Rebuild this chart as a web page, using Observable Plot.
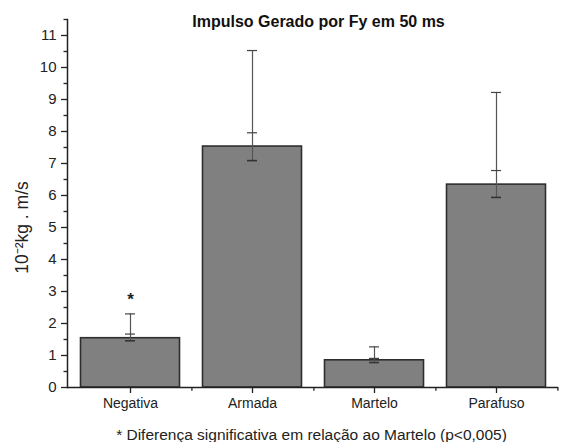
<!DOCTYPE html>
<html>
<head>
<meta charset="utf-8">
<script src="https://cdn.jsdelivr.net/npm/d3@7"></script>
<script src="https://cdn.jsdelivr.net/npm/@observablehq/plot@0.6"></script>
<style>
  html, body { margin: 0; padding: 0; background: #fff; }
  #chart svg { display: block; }
</style>
</head>
<body>
<div id="chart"></div>
<script>
// ---- data ----
const categories = ["Negativa", "Armada", "Martelo", "Parafuso"];
const means      = [1.54, 7.53, 0.85, 6.34];
const sdUpper    = [2.30, 10.53, 1.27, 9.22];   // long whisker top
const seUpper    = [1.67, 7.96, 0.91, 6.78];    // short whisker top
const seLower    = [1.46, 7.09, 0.78, 5.94];    // short whisker bottom
const sigMarks   = ["*", "", "", ""];
const sigMarkY   = [2.86, null, null, null];
const yTicks     = [0, 1, 2, 3, 4, 5, 6, 7, 8, 9, 10, 11];
const yMinorTicks = [0.5, 1.5, 2.5, 3.5, 4.5, 5.5, 6.5, 7.5, 8.5, 9.5, 10.5, 11.5];
const titleText   = "Impulso Gerado por Fy em 50 ms";
const yLabelText  = "10\u207B\u00B2kg . m/s";
const captionText = "* Diferença significativa em relação ao Martelo (p<0,005)";

const data = categories.map((c, i) => ({
  cat: c, mean: means[i], sd: sdUpper[i], seU: seUpper[i], seL: seLower[i],
  mark: sigMarks[i], markY: sigMarkY[i]
}));

const font = "'Liberation Sans', Arial, Helvetica, sans-serif";
const ink = "#222";

const chart = Plot.plot({
  width: 561,
  height: 442,
  marginLeft: 67,
  marginRight: 3,
  marginTop: 19,
  marginBottom: 55,
  style: { fontFamily: font, color: ink, background: "#fff", overflow: "visible" },
  x: { domain: categories, padding: 0, axis: null },
  y: { domain: [0, 11.5], axis: null },
  marks: [
    Plot.barY(data, { x: "cat", y: "mean", fill: "#808080", stroke: "#2e2e2e", strokeWidth: 1.6, insetLeft: 11.5, insetRight: 11.5 }),
    // whiskers
    Plot.ruleX(data, { x: "cat", y1: "seL", y2: "sd", stroke: "#555", strokeWidth: 1.2 }),
    Plot.tickY(data, { x: "cat", y: "sd", stroke: "#444", strokeWidth: 1.2, insetLeft: 56, insetRight: 56 }),
    Plot.tickY(data, { x: "cat", y: "seU", stroke: "#444", strokeWidth: 1.2, insetLeft: 56, insetRight: 56 }),
    Plot.tickY(data, { x: "cat", y: "seL", stroke: "#333", strokeWidth: 1.6, insetLeft: 56, insetRight: 56 }),
    // significance mark
    Plot.text(data.filter(d => d.mark), { x: "cat", y: "markY", text: "mark", fontSize: 17, fontWeight: "bold", fill: ink, dy: 4 }),
    // axes lines
    Plot.ruleY([0], { stroke: ink, strokeWidth: 1.5 }),
    Plot.frame({ anchor: "left", stroke: ink, strokeWidth: 1.5 }),
    // y axis
    Plot.axisY({ ticks: yTicks, tickSize: 6, tickPadding: 5, fontSize: 15, label: null, stroke: ink, strokeWidth: 1.3 }),
    Plot.axisY({ ticks: yMinorTicks, tickSize: 3.5, tickFormat: () => "", label: null, stroke: ink, strokeWidth: 1.3 }),
    // x axis
    Plot.axisX({ tickSize: 6, tickPadding: 5, fontSize: 14, label: null, stroke: ink, strokeWidth: 1.3 }),
    Plot.ruleX(categories, { x: d => d, dx: 61.4, y1: 0, y2: -0.12, stroke: ink, strokeWidth: 1.3 }),
    // title, y label, caption
    Plot.text([titleText], { frameAnchor: "top", lineAnchor: "bottom", dx: 5.5, dy: 7, fontSize: 16, fontWeight: "bold", fill: "#111" }),
    Plot.text([yLabelText], { frameAnchor: "left", textAnchor: "middle", rotate: -90, dx: -45, dy: 24, fontSize: 17.5, fill: ink }),
    Plot.text([captionText], { frameAnchor: "bottom", lineAnchor: "bottom", dx: -1.5, dy: 52, fontSize: 15.5, fill: ink })
  ]
});

document.getElementById("chart").appendChild(chart);
</script>
</body>
</html>
